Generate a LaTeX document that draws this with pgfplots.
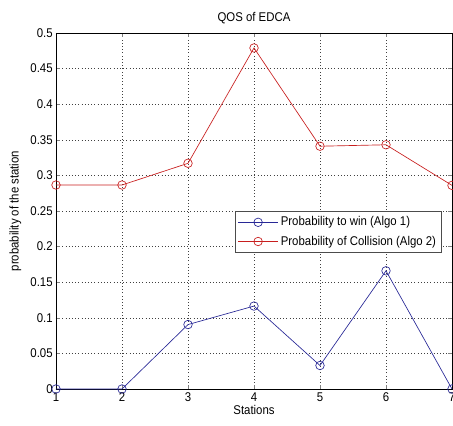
\documentclass[border=0pt]{standalone}
\usepackage{fontspec}
\setmainfont{Liberation Sans}[FakeStretch=0.9]
\usepackage{pgfplots}
\pgfplotsset{compat=1.18}
\definecolor{mred}{RGB}{200,30,30}
\definecolor{mblue}{RGB}{40,40,150}
\begin{document}
\begin{tikzpicture}[font=\fontsize{9.5}{11}\selectfont]
\begin{axis}[
  scale only axis, width=297pt, height=267pt,
  at={(0,0)}, anchor=south west,
  xmin=1, xmax=7, ymin=0, ymax=0.5,
  xtick={1,...,7},
  ytick={0,0.05,...,0.5},
  /pgf/number format/assume math mode=true,
  yticklabel style={/pgf/number format/fixed,/pgf/number format/precision=2, xshift=1pt},
  xticklabel style={yshift=1pt},
  tick align=inside, tick pos=both,
  major tick length=3pt,
  grid=major,
  major grid style={black!75, dotted, line width=0.4pt},
  axis line style={black, line width=0.5pt},
  title={QOS of EDCA},
  title style={yshift=-3pt},
  xlabel={Stations},
  ylabel={probability of the station},
  xlabel style={yshift=4pt},
  ylabel style={yshift=0pt},
  legend style={at={(0.452,0.5)}, anchor=north west, draw=black!70, line width=0.6pt, font=\fontsize{9.5}{12}\selectfont, inner xsep=2pt, inner ysep=2pt, row sep=2pt},
  legend image code/.code={\draw[mark repeat=2,mark phase=2,#1] plot coordinates {(0cm,0cm) (0.52cm,0cm) (1.04cm,0cm)};},
  legend cell align=left,
  clip=false,
]
\addplot[mblue, line width=0.5pt, mark=o, mark size=3.2pt, mark options={line width=0.5pt}] coordinates {
(1,0) (2,0) (3,0.0905) (4,0.1165) (5,0.033) (6,0.166) (7,0)
};
\addlegendentry{Probability to win (Algo 1)}
\addplot[mred, line width=0.5pt, mark=o, mark size=3.2pt, mark options={line width=0.5pt}] coordinates {
(1,0.2865) (2,0.2865) (3,0.317) (4,0.479) (5,0.341) (6,0.343) (7,0.286)
};
\addlegendentry{Probability of Collision (Algo 2)}
\end{axis}
\pgfresetboundingbox
\path[use as bounding box] (-42pt,-27pt) rectangle (297.75pt,291.75pt);
\end{tikzpicture}
\end{document}
